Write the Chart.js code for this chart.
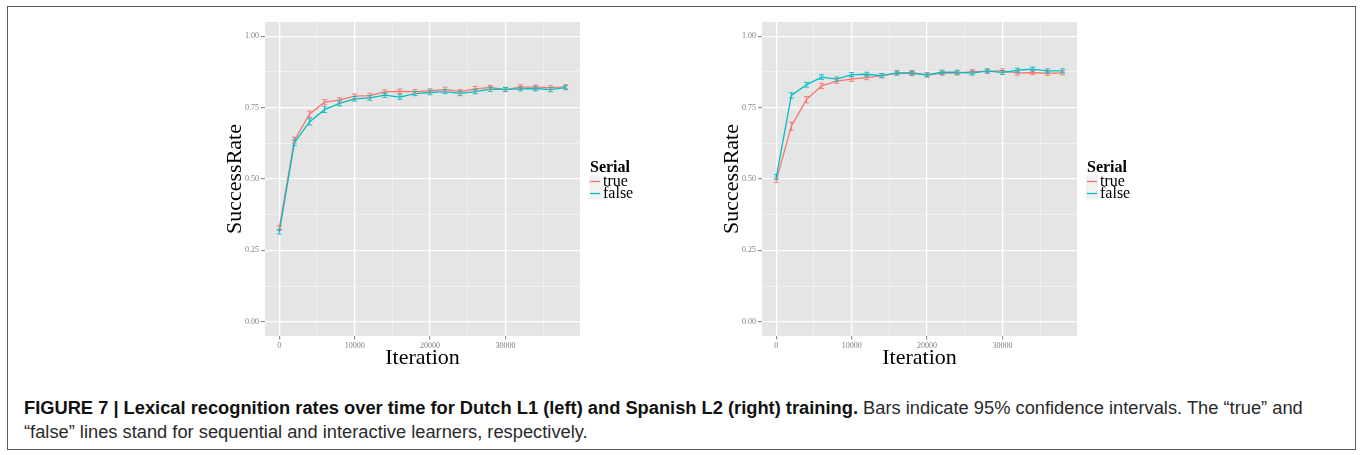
<!DOCTYPE html>
<html>
<head>
<meta charset="utf-8">
<script src="https://cdn.jsdelivr.net/npm/chart.js@4.4.1/dist/chart.umd.min.js"></script>
<style>
  html, body { margin: 0; padding: 0; background: #ffffff; }
  body { width: 1360px; height: 455px; position: relative; overflow: hidden; }
  #frame { position: absolute; left: 7px; top: 6px; width: 1349px; height: 444px;
           border: 1.5px solid #5c5c5c; box-sizing: border-box; }
  .panel { position: absolute; top: 0; width: 500px; height: 380px; }
  #caption { position: absolute; left: 24px; top: 396px; width: 1320px;
             font-family: "Liberation Sans", Arial, sans-serif; font-size: 18.3px;
             line-height: 24px; color: #2a2a2a; white-space: nowrap; }
  #caption b { color: #111111; }
</style>
</head>
<body>
<div id="frame"></div>
<div class="panel" style="left:200px"><canvas id="dutch" width="500" height="380"></canvas></div>
<div class="panel" style="left:697px"><canvas id="spanish" width="500" height="380"></canvas></div>
<div id="caption"><b>FIGURE 7 | Lexical recognition rates over time for Dutch L1 (left) and Spanish L2 (right) training.</b> Bars indicate 95% confidence intervals. The “true” and<br>“false” lines stand for sequential and interactive learners, respectively.</div>

<script>
// Training iterations at which recognition was measured
const iterations = [0, 2000, 4000, 6000, 8000, 10000, 12000, 14000, 16000, 18000,
                    20000, 22000, 24000, 26000, 28000, 30000, 32000, 34000, 36000, 38000];

// Dutch L1 success rates
const dutchTrue  = [0.328, 0.636, 0.727, 0.769, 0.776, 0.790, 0.792, 0.805, 0.807, 0.806,
                    0.809, 0.814, 0.806, 0.816, 0.821, 0.813, 0.822, 0.822, 0.820, 0.823];
const dutchFalse = [0.315, 0.627, 0.700, 0.743, 0.765, 0.781, 0.784, 0.794, 0.787, 0.799,
                    0.803, 0.806, 0.800, 0.806, 0.815, 0.814, 0.816, 0.817, 0.813, 0.820];
// Dutch L1 95% CI half-widths
const dutchTrueCi  = [0.008, 0.010, 0.011, 0.009, 0.008, 0.008, 0.008, 0.007, 0.008, 0.007,
                      0.007, 0.008, 0.007, 0.008, 0.007, 0.007, 0.008, 0.007, 0.007, 0.007];
const dutchFalseCi = [0.008, 0.010, 0.011, 0.010, 0.009, 0.008, 0.008, 0.008, 0.008, 0.007,
                      0.008, 0.007, 0.008, 0.007, 0.008, 0.007, 0.007, 0.008, 0.007, 0.007];

// Spanish L2 success rates
const spanishTrue  = [0.496, 0.685, 0.778, 0.826, 0.843, 0.850, 0.855, 0.862, 0.871, 0.873,
                      0.864, 0.871, 0.871, 0.876, 0.877, 0.879, 0.871, 0.873, 0.870, 0.872];
const spanishFalse = [0.507, 0.793, 0.830, 0.857, 0.850, 0.866, 0.867, 0.862, 0.872, 0.870,
                      0.865, 0.874, 0.874, 0.871, 0.879, 0.873, 0.881, 0.885, 0.879, 0.879];
// Spanish L2 95% CI half-widths
const spanishTrueCi  = [0.008, 0.014, 0.011, 0.009, 0.008, 0.008, 0.007, 0.007, 0.007, 0.007,
                        0.007, 0.007, 0.007, 0.007, 0.007, 0.007, 0.007, 0.007, 0.007, 0.007];
const spanishFalseCi = [0.008, 0.009, 0.008, 0.008, 0.007, 0.007, 0.007, 0.007, 0.007, 0.007,
                        0.007, 0.007, 0.007, 0.007, 0.007, 0.007, 0.007, 0.007, 0.007, 0.007];

// Legend
const legendTitle = 'Serial';
const seriesNames = ['true', 'false'];
const seriesColors = ['#F8766D', '#00BFC4'];

// Axes
const xMajorTicks = [0, 10000, 20000, 30000];
const xTickLabels = ['0', '10000', '20000', '30000'];
const xMinorTicks = [5000, 15000, 25000, 35000];
const yMajorTicks = [0, 0.25, 0.5, 0.75, 1];
const yTickLabels = ['0.00', '0.25', '0.50', '0.75', '1.00'];
const yMinorTicks = [0.125, 0.375, 0.625, 0.875];
const xRange = [-1900, 39900];
const yRange = [-0.05, 1.05];
const xTitle = 'Iteration';
const yTitle = 'SuccessRate';

const SERIF = '"Liberation Serif", "Times New Roman", serif';

const panelBackground = {
  id: 'panelBackground',
  beforeDraw(chart) {
    const { ctx, chartArea: a } = chart;
    ctx.save();
    ctx.fillStyle = '#E5E5E5';
    ctx.fillRect(a.left, a.top, a.right - a.left, a.bottom - a.top);
    ctx.restore();
  }
};

// Vertical 95% CI bars with short caps, in each series' colour
const errorBars = {
  id: 'errorBars',
  afterDatasetsDraw(chart) {
    const { ctx, scales: { x, y } } = chart;
    const order = chart.data.datasets.map((d, i) => i)
      .sort((a, b) => chart.data.datasets[b].order - chart.data.datasets[a].order);
    ctx.save();
    ctx.lineWidth = 0.9;
    order.forEach(di => {
      const ds = chart.data.datasets[di];
      ctx.strokeStyle = ds.borderColor;
      ds.data.forEach((p, i) => {
        const px = x.getPixelForValue(p.x);
        const lo = y.getPixelForValue(p.y - ds.ci[i]);
        const hi = y.getPixelForValue(p.y + ds.ci[i]);
        ctx.beginPath();
        ctx.moveTo(px, lo); ctx.lineTo(px, hi);
        ctx.moveTo(px - 2.5, lo); ctx.lineTo(px + 2.5, lo);
        ctx.moveTo(px - 2.5, hi); ctx.lineTo(px + 2.5, hi);
        ctx.stroke();
      });
    });
    ctx.restore();
  }
};

const sideLegend = {
  id: 'sideLegend',
  afterDraw(chart) {
    const { ctx, chartArea: a } = chart;
    const x0 = a.right + 9;
    const cy = (a.top + a.bottom) / 2;
    ctx.save();
    ctx.fillStyle = '#000';
    ctx.textBaseline = 'alphabetic';
    ctx.textAlign = 'left';
    ctx.font = 'bold 16px ' + SERIF;
    ctx.fillText(legendTitle, x0 + 1, cy - 7);
    seriesNames.forEach((name, i) => {
      const rc = cy + 2.5 + i * 12;
      ctx.fillStyle = '#F2F2F2';
      ctx.fillRect(x0, rc - 6, 12, 12);
      ctx.strokeStyle = seriesColors[i];
      ctx.lineWidth = 1.3;
      ctx.beginPath();
      ctx.moveTo(x0 + 1, rc); ctx.lineTo(x0 + 11, rc);
      ctx.stroke();
      ctx.fillStyle = '#000';
      ctx.font = '16px ' + SERIF;
      ctx.fillText(name, x0 + 14, rc + 4.5);
    });
    ctx.restore();
  }
};

function gridStyle(majors) {
  const major = ctx => ctx.tick && majors.indexOf(ctx.tick.value) !== -1;
  return {
    color: ctx => major(ctx) ? '#FFFFFF' : '#F2F2F2',
    lineWidth: ctx => major(ctx) ? 1.3 : 0.8,
    tickColor: ctx => major(ctx) ? '#7F7F7F' : 'rgba(0,0,0,0)',
    tickWidth: 1,
    drawTicks: true
  };
}

function makePanel(id, trueVals, falseVals, trueCi, falseCi) {
  const series = [trueVals, falseVals];
  const cis = [trueCi, falseCi];
  new Chart(document.getElementById(id), {
    type: 'scatter',
    data: {
      datasets: series.map((vals, s) => ({
        label: seriesNames[s],
        data: iterations.map((it, i) => ({ x: it, y: vals[i] })),
        ci: cis[s],
        showLine: true,
        borderColor: seriesColors[s],
        backgroundColor: seriesColors[s],
        borderWidth: 1.3,
        pointRadius: 0,
        tension: 0,
        order: s === 0 ? 2 : 1
      }))
    },
    options: {
      responsive: false,
      animation: false,
      devicePixelRatio: 1,
      layout: { padding: { top: 22, right: 120, bottom: 0, left: 0 } },
      plugins: { legend: { display: false }, tooltip: { enabled: false } },
      scales: {
        x: {
          type: 'linear', min: xRange[0], max: xRange[1],
          afterBuildTicks: s => { s.ticks = xMajorTicks.concat(xMinorTicks).sort((a, b) => a - b).map(v => ({ value: v })); },
          afterFit: s => { s.height = 44; },
          border: { display: false },
          grid: Object.assign(gridStyle(xMajorTicks), { tickLength: 3.5 }),
          ticks: {
            autoSkip: false, maxRotation: 0, minRotation: 0, padding: 1.5,
            color: '#7F7F7F', font: { family: SERIF, size: 8 },
            callback: v => { const k = xMajorTicks.indexOf(v); return k === -1 ? '' : xTickLabels[k]; }
          },
          title: { display: true, text: xTitle, color: '#000',
                   font: { family: SERIF, size: 22, lineHeight: 1 }, padding: { top: 0, bottom: 11 } }
        },
        y: {
          type: 'linear', min: yRange[0], max: yRange[1],
          afterBuildTicks: s => { s.ticks = yMajorTicks.concat(yMinorTicks).sort((a, b) => a - b).map(v => ({ value: v })); },
          afterFit: s => { s.width = 65; },
          border: { display: false },
          grid: Object.assign(gridStyle(yMajorTicks), { tickLength: 4 }),
          ticks: {
            autoSkip: false, padding: 2,
            color: '#7F7F7F', font: { family: SERIF, size: 8 },
            callback: v => { const k = yMajorTicks.indexOf(v); return k === -1 ? '' : yTickLabels[k]; }
          },
          title: { display: true, text: yTitle, color: '#000',
                   font: { family: SERIF, size: 22, lineHeight: 1 }, padding: { top: 24, bottom: 0 } }
        }
      }
    },
    plugins: [panelBackground, errorBars, sideLegend]
  });
}

makePanel('dutch', dutchTrue, dutchFalse, dutchTrueCi, dutchFalseCi);
makePanel('spanish', spanishTrue, spanishFalse, spanishTrueCi, spanishFalseCi);
</script>
</body>
</html>
